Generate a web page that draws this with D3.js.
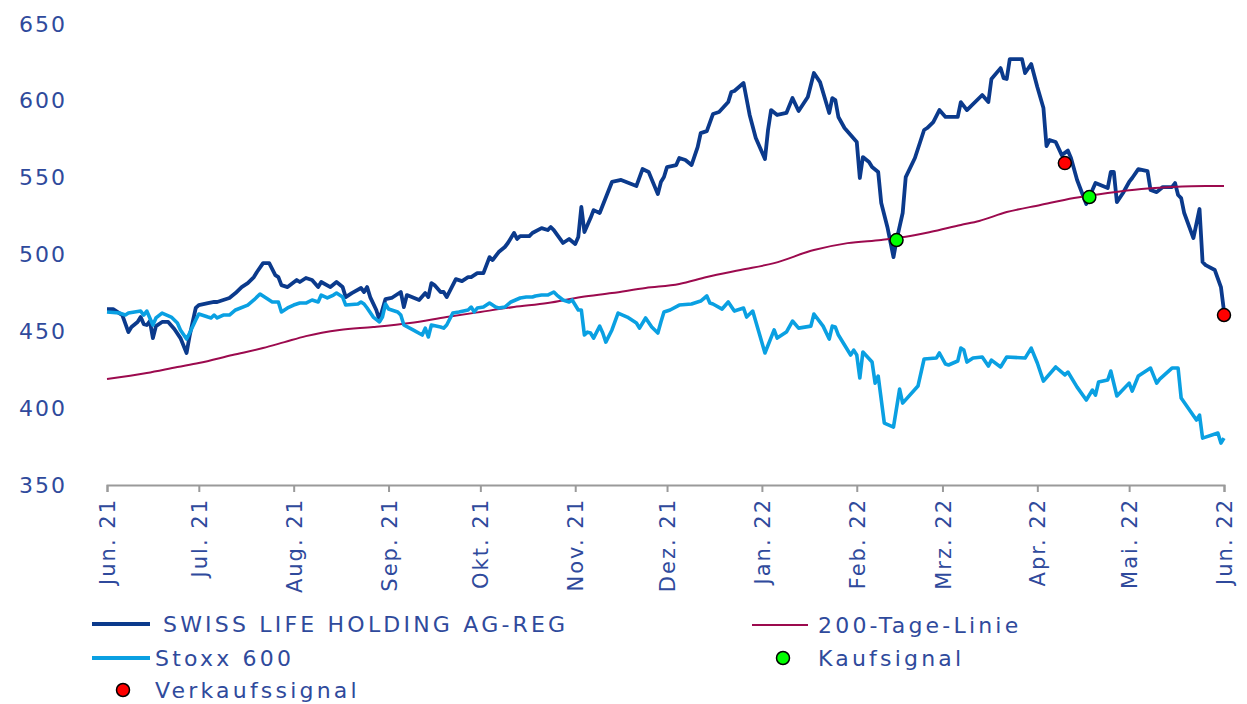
<!DOCTYPE html>
<html>
<head>
<meta charset="utf-8">
<script src="https://cdn.jsdelivr.net/npm/d3@7"></script>
<style>
  body { margin: 0; background: #fff; }
  svg text { font-family: "DejaVu Sans", sans-serif; fill: #2f4a9c; }
</style>
</head>
<body>
<div id="chart"></div>
<script>
// SWISS LIFE HOLDING AG-REG
const swissDates = [
  "2021-06-01","2021-06-03","2021-06-06","2021-06-08","2021-06-09","2021-06-11","2021-06-12","2021-06-13","2021-06-14","2021-06-15",
  "2021-06-16","2021-06-17","2021-06-19","2021-06-21","2021-06-23","2021-06-25","2021-06-27","2021-06-28","2021-06-30","2021-07-01",
  "2021-07-04","2021-07-06","2021-07-07","2021-07-09","2021-07-11","2021-07-13","2021-07-15","2021-07-17","2021-07-19","2021-07-20",
  "2021-07-22","2021-07-24","2021-07-26","2021-07-27","2021-07-28","2021-07-30","2021-08-02","2021-08-03","2021-08-05","2021-08-07",
  "2021-08-09","2021-08-10","2021-08-13","2021-08-15","2021-08-17","2021-08-18","2021-08-20","2021-08-23","2021-08-24","2021-08-25",
  "2021-08-26","2021-08-28","2021-08-29","2021-08-31","2021-09-02","2021-09-05","2021-09-06","2021-09-07","2021-09-11","2021-09-13",
  "2021-09-14","2021-09-15","2021-09-16","2021-09-18","2021-09-19","2021-09-20","2021-09-22","2021-09-23","2021-09-25","2021-09-27",
  "2021-09-28","2021-09-30","2021-10-02","2021-10-04","2021-10-05","2021-10-07","2021-10-09","2021-10-10","2021-10-12","2021-10-13",
  "2021-10-14","2021-10-17","2021-10-18","2021-10-21","2021-10-23","2021-10-24","2021-10-25","2021-10-28","2021-10-30","2021-11-01",
  "2021-11-02","2021-11-03","2021-11-04","2021-11-06","2021-11-07","2021-11-09","2021-11-13","2021-11-16","2021-11-21","2021-11-23",
  "2021-11-25","2021-11-28","2021-11-29","2021-11-30","2021-12-01","2021-12-04","2021-12-05","2021-12-07","2021-12-09","2021-12-11",
  "2021-12-12","2021-12-14","2021-12-16","2021-12-18","2021-12-21","2021-12-22","2021-12-23","2021-12-26","2021-12-28","2021-12-30",
  "2022-01-02","2022-01-03","2022-01-04","2022-01-06","2022-01-09","2022-01-11","2022-01-13","2022-01-16","2022-01-18","2022-01-20",
  "2022-01-23","2022-01-24","2022-01-25","2022-01-26","2022-01-28","2022-01-30","2022-02-01","2022-02-02","2022-02-03","2022-02-05",
  "2022-02-06","2022-02-08","2022-02-09","2022-02-11","2022-02-13","2022-02-14","2022-02-16","2022-02-17","2022-02-20","2022-02-23",
  "2022-02-24","2022-02-26","2022-02-28","2022-03-02","2022-03-06","2022-03-07","2022-03-09","2022-03-14","2022-03-16","2022-03-17",
  "2022-03-20","2022-03-21","2022-03-22","2022-03-23","2022-03-27","2022-03-28","2022-03-30","2022-04-01","2022-04-03","2022-04-04",
  "2022-04-05","2022-04-07","2022-04-09","2022-04-11","2022-04-12","2022-04-14","2022-04-17","2022-04-20","2022-04-24","2022-04-25",
  "2022-04-26","2022-04-27","2022-04-29","2022-05-01","2022-05-02","2022-05-04","2022-05-07","2022-05-08","2022-05-10","2022-05-12",
  "2022-05-15","2022-05-16","2022-05-17","2022-05-18","2022-05-19","2022-05-22","2022-05-24","2022-05-25","2022-05-26","2022-05-29",
  "2022-05-31","2022-06-01"
];
const swissValues = [
  464.5,464.5,460.6,449.5,452.8,456.1,459.3,454.7,454.1,456.7,
  445.6,453.4,456.1,456.1,451.5,445.6,435.9,447.0,465.2,467.1,
  468.4,469.1,469.1,470.4,471.7,474.9,478.8,481.4,485.3,488.6,
  494.4,494.4,486.6,485.3,480.1,478.8,483.4,482.1,484.7,483.4,
  478.8,482.1,478.8,482.1,478.8,472.3,474.9,478.2,475.6,478.8,
  472.3,463.9,457.4,471.0,471.7,475.6,465.8,473.6,470.4,474.9,
  472.3,481.4,480.1,475.6,475.6,472.3,480.1,484.0,482.7,485.3,
  485.3,487.9,487.9,498.3,496.4,501.6,504.9,507.5,514.0,510.1,
  512.0,512.0,514.0,517.2,515.9,517.9,515.9,507.5,510.1,506.8,
  511.4,531.0,514.6,523.7,528.9,527.0,547.2,548.5,544.6,555.6,
  553.7,539.3,547.2,550.4,556.9,558.2,562.8,561.5,558.2,569.9,
  579.0,580.3,591.4,592.7,599.2,605.7,606.4,611.6,590.8,575.8,
  562.1,581.0,594.0,590.8,592.1,601.8,593.4,602.5,618.1,612.2,
  592.1,601.8,600.5,589.5,582.3,577.7,573.2,549.8,563.4,560.2,
  556.9,553.7,533.5,517.9,498.3,509.4,527.0,550.4,562.8,581.0,
  582.3,586.2,594.0,589.5,589.5,599.2,594.0,603.8,599.2,614.2,
  621.3,614.8,614.2,627.2,627.2,618.1,624.0,609.0,595.3,570.6,
  574.5,573.2,564.7,567.6,562.8,548.5,532.8,546.5,543.2,553.7,
  553.7,534.1,540.0,547.2,549.8,555.6,554.3,542.0,540.6,543.9,
  543.9,546.5,538.7,536.7,527.0,510.7,529.6,495.1,493.1,489.9,
  478.8,463.0
];

// Stoxx 600
const stoxxDates = [
  "2021-06-01","2021-06-05","2021-06-07","2021-06-08","2021-06-10","2021-06-12","2021-06-13","2021-06-14","2021-06-16","2021-06-17",
  "2021-06-19","2021-06-22","2021-06-24","2021-06-25","2021-06-27","2021-06-28","2021-06-30","2021-07-01","2021-07-04","2021-07-05",
  "2021-07-06","2021-07-07","2021-07-09","2021-07-11","2021-07-13","2021-07-17","2021-07-19","2021-07-21","2021-07-23","2021-07-25",
  "2021-07-27","2021-07-28","2021-07-30","2021-08-01","2021-08-03","2021-08-05","2021-08-07","2021-08-09","2021-08-10","2021-08-12",
  "2021-08-14","2021-08-15","2021-08-17","2021-08-18","2021-08-22","2021-08-23","2021-08-24","2021-08-25","2021-08-27","2021-08-29",
  "2021-08-30","2021-08-31","2021-09-01","2021-09-04","2021-09-05","2021-09-06","2021-09-09","2021-09-12","2021-09-13","2021-09-14",
  "2021-09-15","2021-09-18","2021-09-19","2021-09-20","2021-09-22","2021-09-24","2021-09-27","2021-09-28","2021-09-29","2021-09-30",
  "2021-10-02","2021-10-04","2021-10-06","2021-10-07","2021-10-09","2021-10-11","2021-10-14","2021-10-16","2021-10-18","2021-10-19",
  "2021-10-21","2021-10-23","2021-10-25","2021-10-26","2021-10-28","2021-10-30","2021-10-31","2021-11-02","2021-11-03","2021-11-04",
  "2021-11-05","2021-11-06","2021-11-07","2021-11-09","2021-11-10","2021-11-11","2021-11-13","2021-11-15","2021-11-18","2021-11-21",
  "2021-11-22","2021-11-24","2021-11-26","2021-11-28","2021-11-29","2021-11-30","2021-12-02","2021-12-05","2021-12-09","2021-12-12",
  "2021-12-14","2021-12-15","2021-12-16","2021-12-19","2021-12-21","2021-12-23","2021-12-26","2021-12-27","2021-12-29","2022-01-02",
  "2022-01-05","2022-01-06","2022-01-09","2022-01-11","2022-01-13","2022-01-17","2022-01-18","2022-01-21","2022-01-23","2022-01-24",
  "2022-01-25","2022-01-26","2022-01-30","2022-01-31","2022-02-01","2022-02-02","2022-02-03","2022-02-06","2022-02-07","2022-02-08",
  "2022-02-10","2022-02-13","2022-02-15","2022-02-16","2022-02-21","2022-02-23","2022-02-27","2022-02-28","2022-03-02","2022-03-03",
  "2022-03-06","2022-03-07","2022-03-08","2022-03-09","2022-03-11","2022-03-14","2022-03-16","2022-03-17","2022-03-20","2022-03-22",
  "2022-03-28","2022-03-30","2022-04-01","2022-04-03","2022-04-07","2022-04-10","2022-04-11","2022-04-14","2022-04-17","2022-04-19",
  "2022-04-20","2022-04-21","2022-04-24","2022-04-25","2022-04-27","2022-05-01","2022-05-02","2022-05-04","2022-05-08","2022-05-10",
  "2022-05-11","2022-05-15","2022-05-17","2022-05-18","2022-05-23","2022-05-24","2022-05-25","2022-05-30","2022-05-31","2022-06-01"
];
const stoxxValues = [
  462.6,461.9,460.6,461.9,462.6,463.2,460.6,463.2,454.1,458.7,
  461.9,459.3,455.4,450.9,445.0,448.9,457.4,461.3,459.3,458.7,
  460.6,458.7,460.6,460.6,463.9,467.1,470.4,474.3,471.7,469.1,
  469.1,462.6,465.2,467.1,468.4,468.4,470.4,469.1,473.6,471.7,
  473.6,474.9,472.3,467.1,467.8,469.1,467.8,465.2,459.3,456.1,
  459.3,467.8,464.5,462.6,460.6,454.1,450.9,447.6,452.1,446.3,
  454.1,452.8,452.1,454.1,461.9,462.6,463.9,465.8,462.6,465.2,
  465.8,468.4,465.8,465.2,465.8,469.1,471.7,472.3,472.3,473.0,
  473.6,473.6,475.6,473.6,470.4,469.1,470.4,463.9,463.9,447.6,
  449.5,448.9,445.6,453.4,448.9,443.0,450.9,461.9,459.3,455.4,
  452.1,458.7,452.8,448.9,456.1,462.6,463.9,467.1,467.8,469.7,
  473.0,468.4,467.8,464.5,469.1,463.2,465.2,459.3,463.2,435.9,
  450.9,445.6,449.5,456.7,452.1,453.4,461.3,453.4,445.0,453.4,
  452.8,447.6,434.6,437.8,434.6,419.6,436.5,430.0,416.3,420.9,
  390.3,387.7,412.4,403.3,414.4,432.0,432.6,435.9,428.7,428.1,
  430.7,439.1,437.8,430.0,432.6,433.3,427.4,431.3,426.8,433.3,
  432.6,439.1,429.4,417.6,426.8,421.6,423.5,413.7,405.3,411.8,
  408.5,417.0,418.3,424.2,407.9,416.3,411.1,420.9,426.1,416.3,
  418.9,426.1,426.1,406.6,392.3,395.5,380.5,383.8,377.3,380.5
];

// 200-Tage-Linie
const maDates = [
  "2021-06-01","2021-06-14","2021-06-24","2021-07-01","2021-07-12","2021-07-22","2021-07-29","2021-08-05","2021-08-16","2021-08-27",
  "2021-09-08","2021-09-20","2021-10-01","2021-10-12","2021-10-23","2021-11-03","2021-11-13","2021-11-24","2021-12-05","2021-12-14",
  "2021-12-25","2022-01-05","2022-01-18","2022-01-29","2022-02-09","2022-02-17","2022-02-25","2022-03-07","2022-03-13","2022-03-22",
  "2022-04-02","2022-04-13","2022-04-24","2022-05-05","2022-05-15","2022-05-26","2022-06-01"
];
const maValues = [
  419.0,422.9,426.8,429.4,434.6,439.1,443.0,446.9,450.9,452.8,
  455.4,459.3,462.6,465.8,468.4,472.3,474.9,478.2,480.8,485.3,
  489.9,494.4,502.9,507.4,509.5,511.5,514.6,519.2,521.8,527.6,
  532.2,536.7,540.0,542.6,543.9,544.6,544.6
];

// Signale
const buyDates = ["2022-02-14", "2022-04-18"];
const buyValues = [509.4, 537.4];
const sellDates = ["2022-04-10", "2022-06-01"];
const sellValues = [559.5, 460.6];

const yTicks = [350, 400, 450, 500, 550, 600, 650];
const monthLabels = ["Jun. 21", "Jul. 21", "Aug. 21", "Sep. 21", "Okt. 21", "Nov. 21", "Dez. 21",
  "Jan. 22", "Feb. 22", "Mrz. 22", "Apr. 22", "Mai. 22", "Jun. 22"];
const legendLabels = ["SWISS LIFE HOLDING AG-REG", "200-Tage-Linie", "Stoxx 600", "Kaufsignal", "Verkaufssignal"];

const colors = { swiss: "#0b3a8c", stoxx: "#0aa0e2", ma: "#9c0a4e", buy: "#00ff00", sell: "#ff0000" };

const width = 1247, height = 704;
const parse = d3.timeParse("%Y-%m-%d");
const zip = (ds, vs) => ds.map((d, i) => ({ date: parse(d), value: vs[i] }));

const swiss = zip(swissDates, swissValues);
const stoxx = zip(stoxxDates, stoxxValues);
const ma = zip(maDates, maValues);
const buys = zip(buyDates, buyValues);
const sells = zip(sellDates, sellValues);

const monthStarts = d3.timeMonth.range(new Date(2021, 5, 1), new Date(2022, 5, 2));

const x = d3.scaleTime()
  .domain([new Date(2021, 5, 1), new Date(2022, 5, 1)])
  .range([107, 1224]);

const y = d3.scaleLinear()
  .domain([350, 650])
  .range([485, 24]);

const svg = d3.select("#chart").append("svg")
  .attr("width", width)
  .attr("height", height);

// y axis: labels only
svg.append("g")
  .attr("transform", "translate(67,0)")
  .call(d3.axisLeft(y).tickValues(yTicks).tickSize(0).tickPadding(0))
  .call(g => g.select(".domain").remove())
  .selectAll("text")
  .style("font-size", "22px")
  .style("letter-spacing", "2px")
  .attr("fill", "#2f4a9c");

// x axis
const xAxis = svg.append("g")
  .attr("transform", `translate(0,${y(350)})`)
  .call(d3.axisBottom(x).tickValues(monthStarts).tickSize(7)
    .tickFormat((d, i) => monthLabels[i]));

xAxis.select(".domain").attr("stroke", "#9a9a9a").attr("stroke-width", 2);
xAxis.selectAll(".tick line").attr("stroke", "#9a9a9a").attr("stroke-width", 2);
xAxis.selectAll(".tick text")
  .attr("transform", "rotate(-90)")
  .attr("x", -13)
  .attr("y", 0)
  .attr("dy", "0.36em")
  .style("text-anchor", "end")
  .style("font-size", "21px")
  .style("letter-spacing", "2px")
  .attr("fill", "#2f4a9c");

const line = d3.line()
  .x(d => x(d.date))
  .y(d => y(d.value));

svg.append("path")
  .datum(swiss)
  .attr("fill", "none")
  .attr("stroke", colors.swiss)
  .attr("stroke-width", 3.8)
  .attr("stroke-linejoin", "round")
  .attr("d", line);

svg.append("path")
  .datum(ma)
  .attr("fill", "none")
  .attr("stroke", colors.ma)
  .attr("stroke-width", 2)
  .attr("stroke-linejoin", "round")
  .attr("d", line.curve(d3.curveMonotoneX));

line.curve(d3.curveLinear);

svg.append("path")
  .datum(stoxx)
  .attr("fill", "none")
  .attr("stroke", colors.stoxx)
  .attr("stroke-width", 3.6)
  .attr("stroke-linejoin", "round")
  .attr("d", line);

svg.append("g")
  .selectAll("circle")
  .data(buys)
  .join("circle")
  .attr("cx", d => x(d.date))
  .attr("cy", d => y(d.value))
  .attr("r", 6.5)
  .attr("fill", colors.buy)
  .attr("stroke", "#000")
  .attr("stroke-width", 1.5);

svg.append("g")
  .selectAll("circle")
  .data(sells)
  .join("circle")
  .attr("cx", d => x(d.date))
  .attr("cy", d => y(d.value))
  .attr("r", 6.5)
  .attr("fill", colors.sell)
  .attr("stroke", "#000")
  .attr("stroke-width", 1.5);

// legend
const legend = svg.append("g").style("font-size", "22px").style("letter-spacing", "3.2px");

const legendRows = [
  { type: "line", color: colors.swiss, w: 4, x1: 92, x2: 150, tx: 163, y: 624, label: legendLabels[0] },
  { type: "line", color: colors.ma, w: 2.2, x1: 752, x2: 808, tx: 818, y: 625, label: legendLabels[1] },
  { type: "line", color: colors.stoxx, w: 4, x1: 92, x2: 150, tx: 155, y: 658, label: legendLabels[2] },
  { type: "dot", color: colors.buy, cx: 783, tx: 818, y: 658, label: legendLabels[3] },
  { type: "dot", color: colors.sell, cx: 123, tx: 155, y: 690, label: legendLabels[4] }
];

legendRows.forEach(r => {
  if (r.type === "line") {
    legend.append("line")
      .attr("x1", r.x1).attr("x2", r.x2)
      .attr("y1", r.y).attr("y2", r.y)
      .attr("stroke", r.color)
      .attr("stroke-width", r.w);
  } else {
    legend.append("circle")
      .attr("cx", r.cx).attr("cy", r.y)
      .attr("r", 6.5)
      .attr("fill", r.color)
      .attr("stroke", "#000")
      .attr("stroke-width", 1.5);
  }
  legend.append("text")
    .attr("x", r.tx)
    .attr("y", r.y)
    .attr("dy", "0.36em")
    .text(r.label);
});
</script>
</body>
</html>
